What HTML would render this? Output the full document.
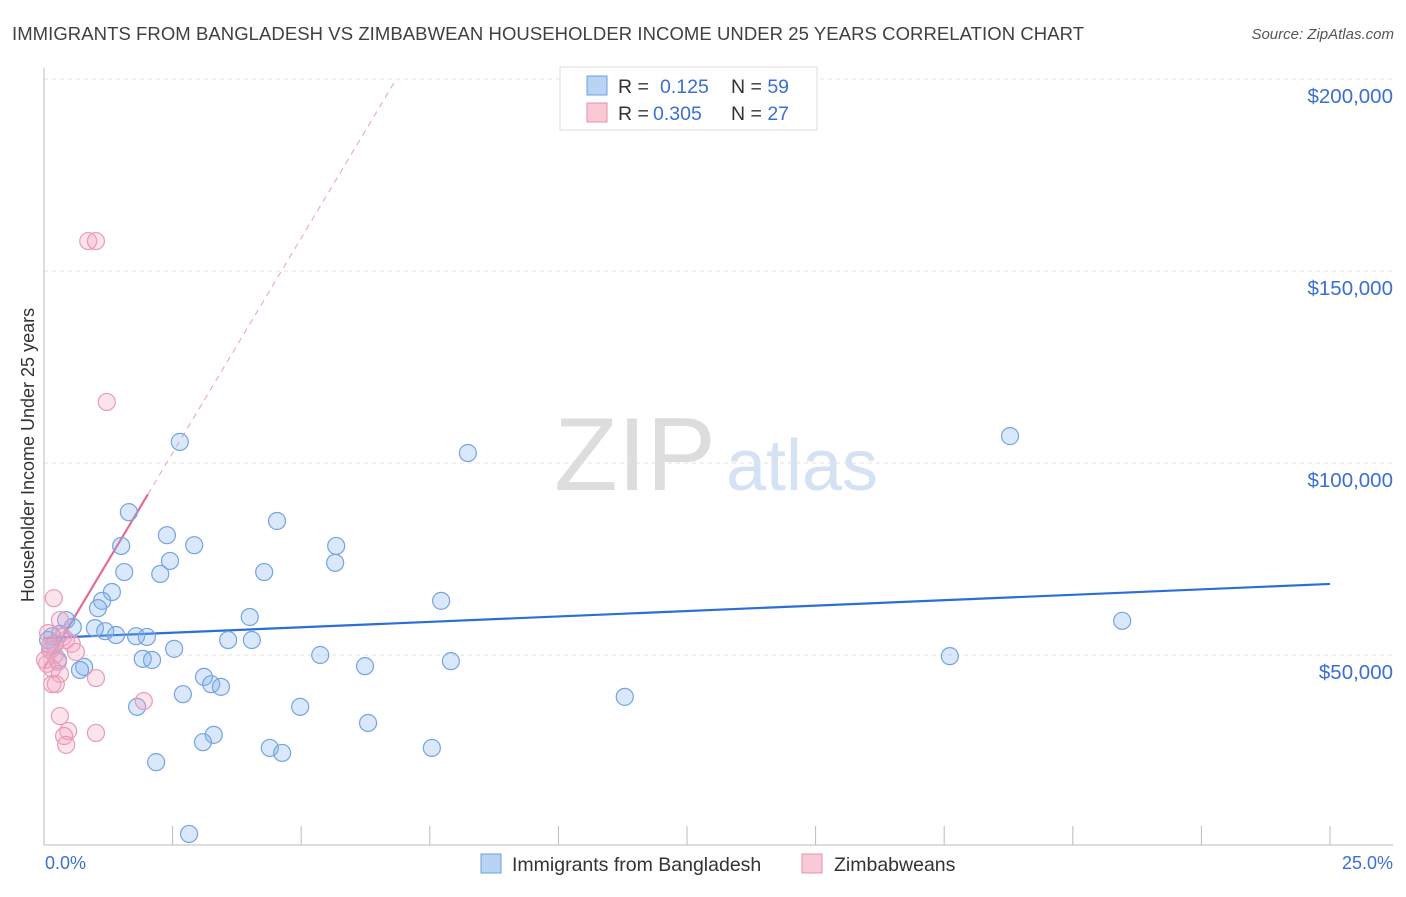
<!DOCTYPE html>
<html><head><meta charset="utf-8"><style>
body{margin:0;background:#fff;font-family:"Liberation Sans",sans-serif;}
svg text{font-family:"Liberation Sans",sans-serif;}
</style></head><body>
<svg width="1406" height="892" xmlns="http://www.w3.org/2000/svg">
<text x="12" y="40" font-size="18.5" fill="#404040" textLength="1072">IMMIGRANTS FROM BANGLADESH VS ZIMBABWEAN HOUSEHOLDER INCOME UNDER 25 YEARS CORRELATION CHART</text>
<text x="1394" y="39" font-size="15" font-style="italic" fill="#555" text-anchor="end">Source: ZipAtlas.com</text>
<g>
<text x="635" y="490" font-size="104" font-family="Liberation Serif" fill="#ddd" text-anchor="middle">ZIP</text>
<text x="802" y="490" font-size="72" fill="#d4e2f3" text-anchor="middle">atlas</text>
</g>
<g id="grid"></g>
<g id="axes"></g>
<text transform="translate(34,455) rotate(-90)" font-size="18" fill="#333" text-anchor="middle">Householder Income Under 25 years</text>
<text x="45" y="869" font-size="18" fill="#3b6fd4">0.0%</text>
<text x="1393" y="869" font-size="18" fill="#3b6fd4" text-anchor="end">25.0%</text>
<g id="lines"></g>
<g id="points"></g>
<g>
<rect x="560" y="67" width="257" height="63" fill="#fff" stroke="#ddd"/>
<rect x="587" y="76" width="20" height="19" fill="#b9d3f3" stroke="#6d9ee0"/>
<rect x="587" y="103" width="20" height="19" fill="#f9c9d6" stroke="#e88fae"/>
<text x="618" y="93" font-size="19.5" fill="#333">R = <tspan x="660" fill="#3b6fd4">0.125</tspan><tspan x="731">N = </tspan><tspan fill="#3b6fd4">59</tspan></text>
<text x="618" y="120" font-size="19.5" fill="#333">R = <tspan x="653" fill="#3b6fd4">0.305</tspan><tspan x="731">N = </tspan><tspan fill="#3b6fd4">27</tspan></text>
</g>
<g>
<rect x="481" y="854" width="20" height="19" fill="#b9d3f3" stroke="#6d9ee0"/>
<text x="512" y="871" font-size="19.5" fill="#333">Immigrants from Bangladesh</text>
<rect x="802" y="854" width="20" height="19" fill="#f9c9d6" stroke="#e88fae"/>
<text x="834" y="871" font-size="19.5" fill="#333">Zimbabweans</text>
</g>
</svg>
<script>
const yTicks=[50000,100000,150000,200000];
const yTickLabels=["$50,000","$100,000","$150,000","$200,000"];
const xTicks=[0,2.5,5,7.5,10,12.5,15,17.5,20,22.5,25];
const blueX=[2.64,8.24,18.78,1.65,4.53,2.39,1.50,2.92,5.68,2.45,5.66,1.56,2.26,4.28,1.32,1.13,1.05,4.00,7.72,20.96,0.43,0.56,0.99,1.19,1.40,1.79,2.00,3.58,4.04,2.53,0.16,0.31,0.21,1.92,2.10,5.37,7.91,6.24,17.61,0.78,0.70,3.11,3.25,3.44,2.70,11.29,1.81,4.98,6.30,3.30,3.09,4.39,4.63,7.54,2.18,2.82,0.12,0.27,0.08];
const blueY=[105.5,102.6,107.0,87.2,84.9,81.2,78.4,78.6,78.4,74.5,74.0,71.6,71.1,71.6,66.4,64.1,62.2,59.9,64.1,58.9,59.1,57.3,57.0,56.2,55.2,54.9,54.7,53.9,53.9,51.6,54.9,55.5,52.9,49.0,48.7,50.0,48.4,47.1,49.7,46.9,46.1,44.3,42.4,41.7,39.8,39.1,36.5,36.5,32.3,29.2,27.3,25.8,24.5,25.8,22.1,3.4,51.3,48.7,53.9];
const pinkX=[0.86,1.01,1.22,0.19,0.31,0.08,0.37,0.43,0.54,0.12,0.21,0.27,0.06,0.16,0.31,0.16,0.23,1.01,1.94,0.31,0.47,0.39,1.01,0.43,0.62,0.12,0.02];
const pinkY=[157.8,157.8,115.9,64.8,59.1,55.7,54.7,53.9,52.9,51.3,50.0,48.2,47.7,46.4,45.1,42.4,42.4,44.0,38.0,34.1,30.2,28.9,29.7,26.6,50.8,52.6,48.7];
const blueTrend=[54.4,68.5];
const pinkTrend=[46.6,22.4];
const NS="http://www.w3.org/2000/svg";
const X=v=>44+v/25*1286;
const Y=v=>847-v/50000*192;
const Yk=v=>Y(v*1000);
function mk(tag,attrs,parent){const e=document.createElementNS(NS,tag);for(const k in attrs)e.setAttribute(k,attrs[k]);document.getElementById(parent).appendChild(e);return e;}
yTicks.forEach((t,i)=>{
 const l=mk('line',{x1:44,x2:1393,y1:Y(t),y2:Y(t),stroke:'#e2e2e2','stroke-dasharray':'4,4'},'grid');
 
 
 const tx=mk('text',{x:1393,y:Y(t)+24,'font-size':20.5,fill:'#3b6fd4','text-anchor':'end'},'grid');
 tx.textContent=yTickLabels[i];
 
 
});
const ax=mk('line',{x1:44,x2:1393,y1:845,y2:845,stroke:'#bbb'},'axes');


const ay=mk('line',{x1:44,x2:44,y1:68,y2:845,stroke:'#bbb'},'axes');


xTicks.forEach(t=>{
 const l=mk('line',{x1:X(t),x2:X(t),y1:826,y2:845,stroke:'#bbb'},'axes');
 
 
});
blueX.forEach((x,i)=>{
 const c=mk('circle',{cx:X(x),cy:Yk(blueY[i]),r:8.5,fill:'rgba(130,178,238,0.3)',stroke:'#76a3e2','stroke-width':1.2},'points');
 
 
});
pinkX.forEach((x,i)=>{
 const c=mk('circle',{cx:X(x),cy:Yk(pinkY[i]),r:8.5,fill:'rgba(245,165,195,0.3)',stroke:'#eb9ab6','stroke-width':1.2},'points');
 
 
});
const bl=mk('line',{x1:X(0),y1:Yk(blueTrend[0]),x2:X(25),y2:Yk(blueTrend[1]),stroke:'#2a6fd6','stroke-width':2.2},'lines');


const pEnd=(200-pinkTrend[0])/pinkTrend[1];
const pd=mk('line',{x1:X(2.02),y1:Yk(pinkTrend[0]+pinkTrend[1]*2.02),x2:X(pEnd),y2:Yk(200),stroke:'#eaa0b8','stroke-width':1,'stroke-dasharray':'6,5'},'lines');


const pl=mk('line',{x1:X(0),y1:Yk(pinkTrend[0]),x2:X(2.02),y2:Yk(pinkTrend[0]+pinkTrend[1]*2.02),stroke:'#e46c94','stroke-width':2.2},'lines');


</script>
</body></html>
